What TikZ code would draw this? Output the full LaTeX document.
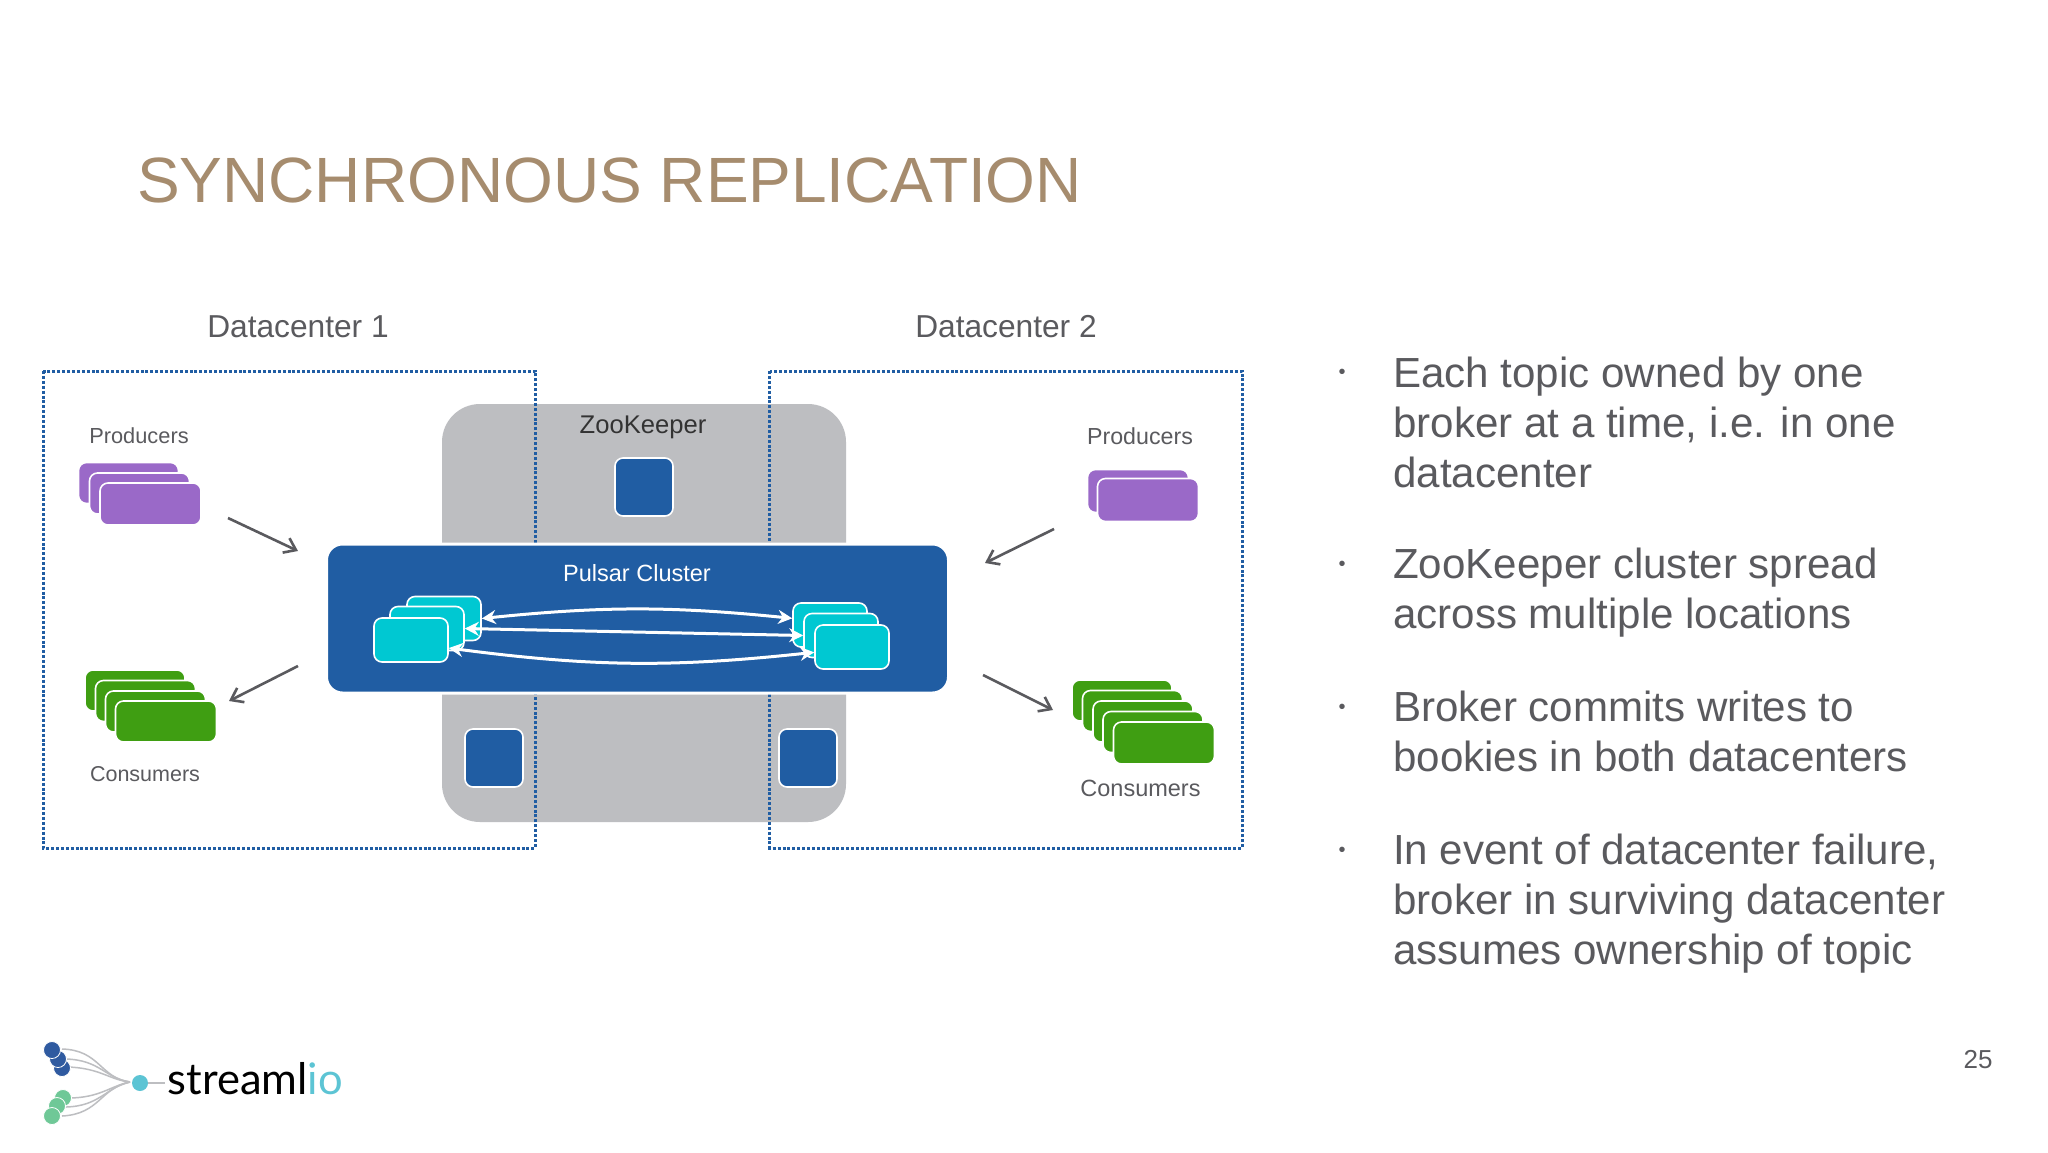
\documentclass[tikz,border=0pt]{standalone}
\usepackage{fontspec}
\setmainfont{Liberation Sans}
\newfontfamily\logofont{Lato}
\usetikzlibrary{arrows.meta,bending}
\definecolor{titletan}{HTML}{A68C6E}
\definecolor{bodygrey}{HTML}{5A5A5E}
\definecolor{zoogrey}{HTML}{BDBEC1}
\definecolor{clusterblue}{HTML}{205DA3}
\definecolor{purplebox}{HTML}{9A69C8}
\definecolor{greenbox}{HTML}{3F9E12}
\definecolor{cyanbox}{HTML}{00C8D2}
\definecolor{logoteal}{HTML}{5CC4D4}
\definecolor{logoblue}{HTML}{2F5AA0}
\definecolor{logogreen}{HTML}{6FC897}
\newcommand{\fsize}[1]{\fontsize{#1}{#1}\selectfont}
\tikzset{
>={Stealth[length=14pt,width=14pt]},
dcbox/.style={draw=clusterblue, line width=3pt, dash pattern=on 3pt off 1.9pt},
stackbox/.style={rectangle, rounded corners=8pt, draw=white, line width=1.6pt, inner sep=0pt, minimum width=100pt, minimum height=41pt},
producer/.style={stackbox, fill=purplebox},
consumer/.style={stackbox, fill=greenbox},
broker/.style={stackbox, fill=cyanbox, minimum width=74pt, minimum height=44pt, rounded corners=8pt},
zoonode/.style={stackbox, fill=clusterblue, minimum width=58pt, minimum height=58pt},
flow/.style={draw=bodygrey, line width=2.6pt, ->, >={Straight Barb[length=11pt,width=16pt]}},
replica/.style={draw=white, line width=3pt, <->},
label/.style={text=bodygrey, inner sep=0pt},
bulletdot/.style={text=bodygrey, inner sep=0pt, font=\fsize{20}},
bullettext/.style={text=bodygrey, inner sep=0pt, anchor=north west, align=left, font=\fontsize{42.1}{50}\selectfont},
logoline/.style={draw=zoogrey, line width=1.5pt},
}
\begin{document}
\begin{tikzpicture}[x=1pt,y=-1pt]
\useasboundingbox (0,0) rectangle (2048,1152);
\fill[white] (0,0) rectangle (2048,1152);

\node[anchor=west, text=titletan, inner sep=0pt, font=\fsize{64}] (title) at (137,180) {SYNCHRONOUS REPLICATION};

% datacenters
\node[label, font=\fsize{31.7}] (dcone) at (298,327) {Datacenter 1};
\node[label, font=\fsize{31.7}] (dctwo) at (1006,327) {Datacenter 2};

% zookeeper goes under the cluster
\node[rectangle, rounded corners=38pt, fill=zoogrey, minimum width=404pt, minimum height=418pt, inner sep=0pt] (zoo) at (644,613) {};
\draw[dcbox] (43,371) rectangle (535,848);
\draw[dcbox] (769.5,371) rectangle (1242,848);
\node[label, text=black!80, font=\fsize{25.6}] (zoolabel) at (643,427) {ZooKeeper};
\node[zoonode] (zootop) at (644,487) {};
\node[zoonode] (zoobl) at (494,758) {};
\node[zoonode] (zoobr) at (808,758) {};

% cluster
\node[rectangle, rounded corners=16pt, fill=clusterblue, draw=white, line width=3pt, minimum width=622pt, minimum height=149pt, inner sep=0pt] (cluster) at (637.5,618.5) {};
\node[label, text=white, font=\fsize{23.5}] (clusterlabel) at (637,573) {Pulsar Cluster};

\node[broker] (brokerAa) at (444,618.5) {};
\node[broker] (brokerAb) at (427,628.5) {};
\node[broker] (brokerAc) at (411,640) {};
\node[broker] (brokerBa) at (830,625) {};
\node[broker] (brokerBb) at (841,635.5) {};
\node[broker] (brokerBc) at (852,647) {};

\draw[replica] (brokerAa.east) to[bend left=6] (brokerBa.170);
\draw[replica] (brokerAb.east) -- (brokerBb.west);
\draw[replica] (brokerAc.-12) to[bend right=7] (brokerBc.188);

% producers and consumers
\node[label, font=\fsize{21.8}] (prodlabelA) at (139,436) {Producers};
\node[producer] (prodAa) at (128.5,483) {};
\node[producer] (prodAb) at (139.5,493.5) {};
\node[producer, minimum width=101pt, minimum height=42pt] (prodAc) at (150.5,504) {};

\node[label, font=\fsize{23.2}] (prodlabelB) at (1140,436) {Producers};
\node[producer, minimum height=43pt, minimum width=101pt] (prodBa) at (1138,491) {};
\node[producer, minimum height=43pt, minimum width=101pt] (prodBb) at (1148,500) {};

\node[label, font=\fsize{21.5}] (conslabelA) at (145,774) {Consumers};
\node[consumer] (consAa) at (135,690.5) {};
\node[consumer] (consAb) at (145.5,701) {};
\node[consumer] (consAc) at (155.5,711.5) {};
\node[consumer, minimum width=101pt] (consAd) at (166,721.5) {};

\node[label, font=\fsize{23.5}] (conslabelB) at (1140.5,788) {Consumers};
\node[consumer] (consBa) at (1122,700.5) {};
\node[consumer] (consBb) at (1132.5,711) {};
\node[consumer] (consBc) at (1143,721.5) {};
\node[consumer] (consBd) at (1153,732) {};
\node[consumer, minimum width=101pt, minimum height=42pt] (consBe) at (1164,743) {};

\coordinate (prodAout) at (228,518);
\coordinate (prodAin) at (298,551);
\coordinate (prodBout) at (1054,529);
\coordinate (prodBin) at (985,563);
\coordinate (consAout) at (298,666);
\coordinate (consAin) at (229,701);
\coordinate (consBout) at (983,675);
\coordinate (consBin) at (1053,710);
\draw[flow] (prodAout) -- (prodAin);
\draw[flow] (prodBout) -- (prodBin);
\draw[flow] (consAout) -- (consAin);
\draw[flow] (consBout) -- (consBin);

% bullets
\node[bulletdot] (dotone) at (1342,373.5) {•};
\node[bulletdot] (dottwo) at (1342,565.5) {•};
\node[bulletdot] (dotthree) at (1342,708.5) {•};
\node[bulletdot] (dotfour) at (1342,851.5) {•};
\node[bullettext] (textone) at (1393,356.5) {Each topic owned by one\\broker at a time, i.e. in one\\datacenter};
\node[bullettext] (texttwo) at (1393,547.5) {ZooKeeper cluster spread\\across multiple locations};
\node[bullettext] (textthree) at (1393,690.5) {Broker commits writes to\\bookies in both datacenters};
\node[bullettext] (textfour) at (1393,833.5) {In event of datacenter failure,\\broker in surviving datacenter\\assumes ownership of topic};

\node[label, font=\fsize{26}] (pagenum) at (1978,1060) {25};

% logo
\coordinate (logojoin) at (130,1082);
\draw[logoline] (62,1049) .. controls (100,1050) and (100,1078) .. (logojoin);
\draw[logoline] (66,1059) .. controls (100,1060) and (105,1078) .. (logojoin);
\draw[logoline] (68,1067) .. controls (100,1068) and (110,1080) .. (logojoin);
\draw[logoline] (68,1098) .. controls (100,1098) and (110,1086) .. (logojoin);
\draw[logoline] (66,1107) .. controls (100,1106) and (105,1088) .. (logojoin);
\draw[logoline] (62,1116) .. controls (100,1114) and (100,1088) .. (logojoin);
\foreach \cx/\cy [count=\i] in {62/1068,58/1059,52/1050}
  \node[circle, fill=logoblue, draw=white, line width=.8pt, minimum size=17pt, inner sep=0pt] (logoblue\i) at (\cx,\cy) {};
\foreach \cx/\cy [count=\i] in {63/1098,57/1106,52/1116}
  \node[circle, fill=logogreen, draw=white, line width=.8pt, minimum size=17pt, inner sep=0pt] (logogreen\i) at (\cx,\cy) {};
\node[circle, fill=logoteal, minimum size=16pt, inner sep=0pt] (logohub) at (140,1083) {};
\coordinate (logotail) at (165,1083);
\draw[logoline] (logohub) -- (logotail);
\node[anchor=base west, inner sep=0pt, font=\logofont\fsize{43.5}] (logotext) at (167.5,1094) {streaml\textcolor{logoteal}{io}};
\end{tikzpicture}
\end{document}
